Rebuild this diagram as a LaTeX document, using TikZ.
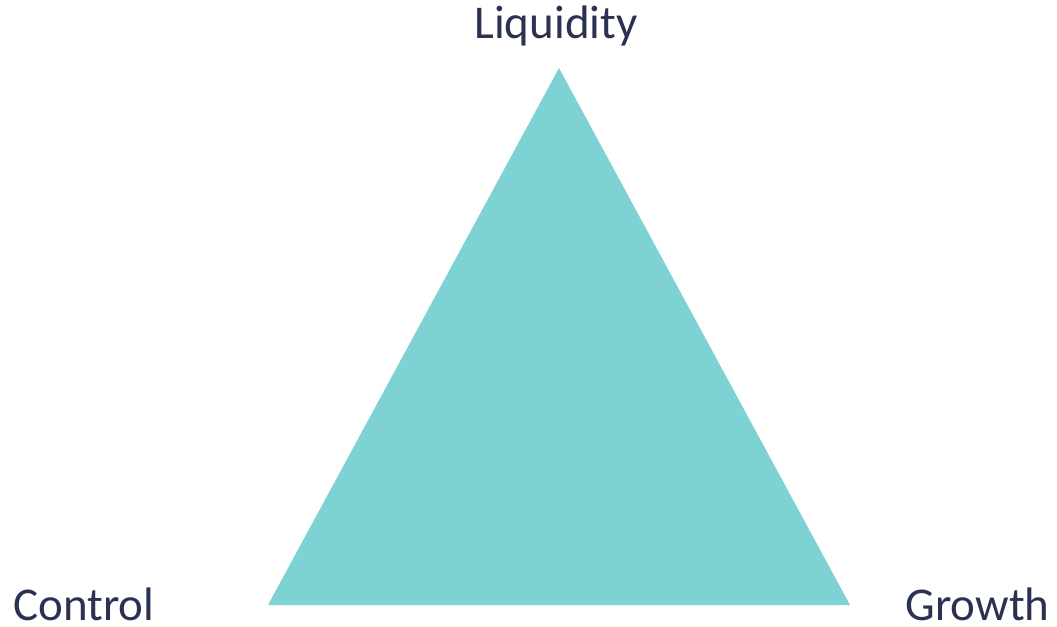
\documentclass[tikz,border=0pt]{standalone}
\usepackage{fontspec}
\setmainfont{Carlito}
\usepackage{xcolor}
\definecolor{teal1}{HTML}{7ED2D3}
\definecolor{navy1}{HTML}{2B3150}

\begin{document}
\begin{tikzpicture}[x=0.5pt, y=-0.5pt]
    \tikzset{corner/.style={text=navy1, font=\fontsize{23.5}{28}\selectfont, inner sep=0pt, text depth=0pt}}
    \useasboundingbox (0, 0) rectangle (1057, 627);

    \coordinate (top) at (559, 68);
    \coordinate (left) at (268, 605);
    \coordinate (right) at (850, 605);

    \fill[teal1] (top) -- (left) -- (right) -- cycle;

    \node[corner, anchor=base] (liq) at (556, 38) {Liquidity};
    \node[corner, anchor=base west] (ctl) at (13, 620) {Control};
    \node[corner, anchor=base east] (grw) at (1050, 620) {Growth};
\end{tikzpicture}
\end{document}
